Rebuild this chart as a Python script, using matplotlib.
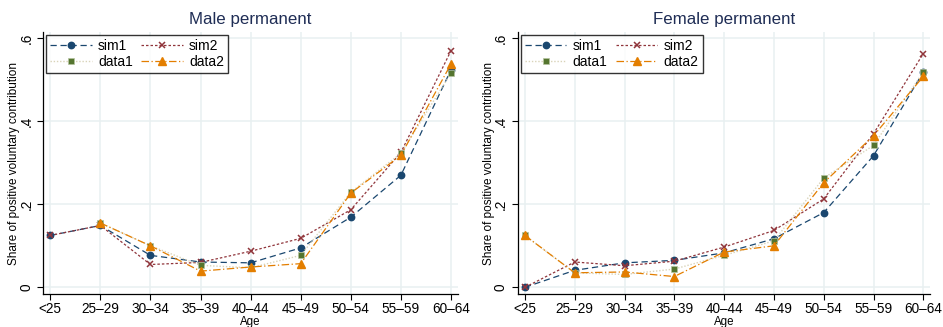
import matplotlib
matplotlib.use('Agg')
import matplotlib.pyplot as plt
import numpy as np

plt.rcParams['font.family'] = ['Liberation Sans', 'DejaVu Sans']

# age groups
ages = ['<25', '25–29', '30–34', '35–39', '40–44', '45–49', '50–54', '55–59', '60–64']

# male permanent (data has no value for <25)
male_sim1 = [0.125, 0.149, 0.077, 0.061, 0.059, 0.095, 0.169, 0.270, 0.524]
male_sim2 = [0.125, 0.149, 0.055, 0.060, 0.087, 0.118, 0.187, 0.325, 0.570]
male_data1 = [np.nan, 0.155, 0.100, 0.053, 0.047, 0.077, 0.229, 0.323, 0.516]
male_data2 = [np.nan, 0.155, 0.100, 0.039, 0.049, 0.057, 0.227, 0.318, 0.538]

# female permanent
female_sim1 = [0.000, 0.041, 0.059, 0.065, 0.083, 0.117, 0.180, 0.317, 0.519]
female_sim2 = [0.000, 0.061, 0.052, 0.063, 0.097, 0.137, 0.213, 0.370, 0.563]
female_data1 = [0.125, 0.035, 0.031, 0.044, 0.077, 0.112, 0.263, 0.342, 0.519]
female_data2 = [0.125, 0.035, 0.037, 0.026, 0.085, 0.100, 0.252, 0.365, 0.508]

navy = '#1a476f'
maroon = '#90353b'
green = '#55752f'
orange = '#e37e00'

fig = plt.figure(figsize=(9.43, 3.27), dpi=100)
ax1 = fig.add_axes([0.0456, 0.1, 0.4401, 0.802])
ax2 = fig.add_axes([0.549, 0.1, 0.4375, 0.802])

def panel(ax, title, s1, s2, d1, d2):
    x = np.arange(len(ages))
    h1, = ax.plot(x, s1, color=navy, ls=(0, (5, 3)), lw=0.9, marker='o', ms=4.6,
                  label='sim1', zorder=3)
    h2, = ax.plot(x, s2, color=maroon, ls=(0, (2, 1.6)), lw=0.9, marker='x', ms=3.8,
                  mew=1.1, label='sim2', zorder=3)
    h3, = ax.plot(x, d1, color='#d9d3b8', ls=(0, (1, 1.3)), lw=1.0, marker='s', ms=4.6,
                  mfc=green, mec='#b5c4a0', mew=0.5, label='data1', zorder=3)
    h4, = ax.plot(x, d2, color=orange, ls=(0, (6, 2, 1, 2)), lw=0.9, marker='^', ms=5.4,
                  mfc=orange, mec=orange, label='data2', zorder=3)

    ax.set_xlim(-0.145, 8.14)
    ax.set_ylim(-0.0168, 0.615)
    ax.set_xticks(x)
    ax.set_xticklabels(ages, fontsize=9.8)
    ax.set_yticks([0, 0.2, 0.4, 0.6])
    ax.set_yticklabels(['0', '.2', '.4', '.6'], rotation=90, va='center', fontsize=9.8)
    ax.grid(True, color='#e8f0f1', lw=1.1, zorder=0)
    ax.set_axisbelow(True)
    for s in ['top', 'right']:
        ax.spines[s].set_visible(False)
    ax.spines['left'].set_linewidth(0.9)
    ax.spines['bottom'].set_linewidth(0.9)
    ax.tick_params(direction='out', length=4, width=0.8, pad=1.5)
    ax.tick_params(axis='y', pad=3)
    ax.set_title(title, fontsize=12.2, color='#1f2d55', pad=6)
    ax.set_xlabel('Age', fontsize=8.3)
    ax.xaxis.set_label_coords(0.5, -0.083)
    ax.set_ylabel('Share of positive voluntary contribution', fontsize=8.5)
    ax.yaxis.set_label_coords(-0.055, 0.5)
    # two columns filled row by row: sim1 sim2 / data1 data2
    leg = ax.legend([h1, h3, h2, h4], ['sim1', 'data1', 'sim2', 'data2'],
                    ncol=2, loc='upper left', fontsize=10, frameon=True, fancybox=False,
                    edgecolor='black', handlelength=3.0, handletextpad=0.45,
                    columnspacing=0.6, borderpad=0.3, labelspacing=0.15,
                    borderaxespad=0, bbox_to_anchor=(0.007, 0.99))
    leg.get_frame().set_linewidth(1.0)

panel(ax1, 'Male permanent', male_sim1, male_sim2, male_data1, male_data2)
panel(ax2, 'Female permanent', female_sim1, female_sim2, female_data1, female_data2)

fig.savefig('out.png', dpi=100)
